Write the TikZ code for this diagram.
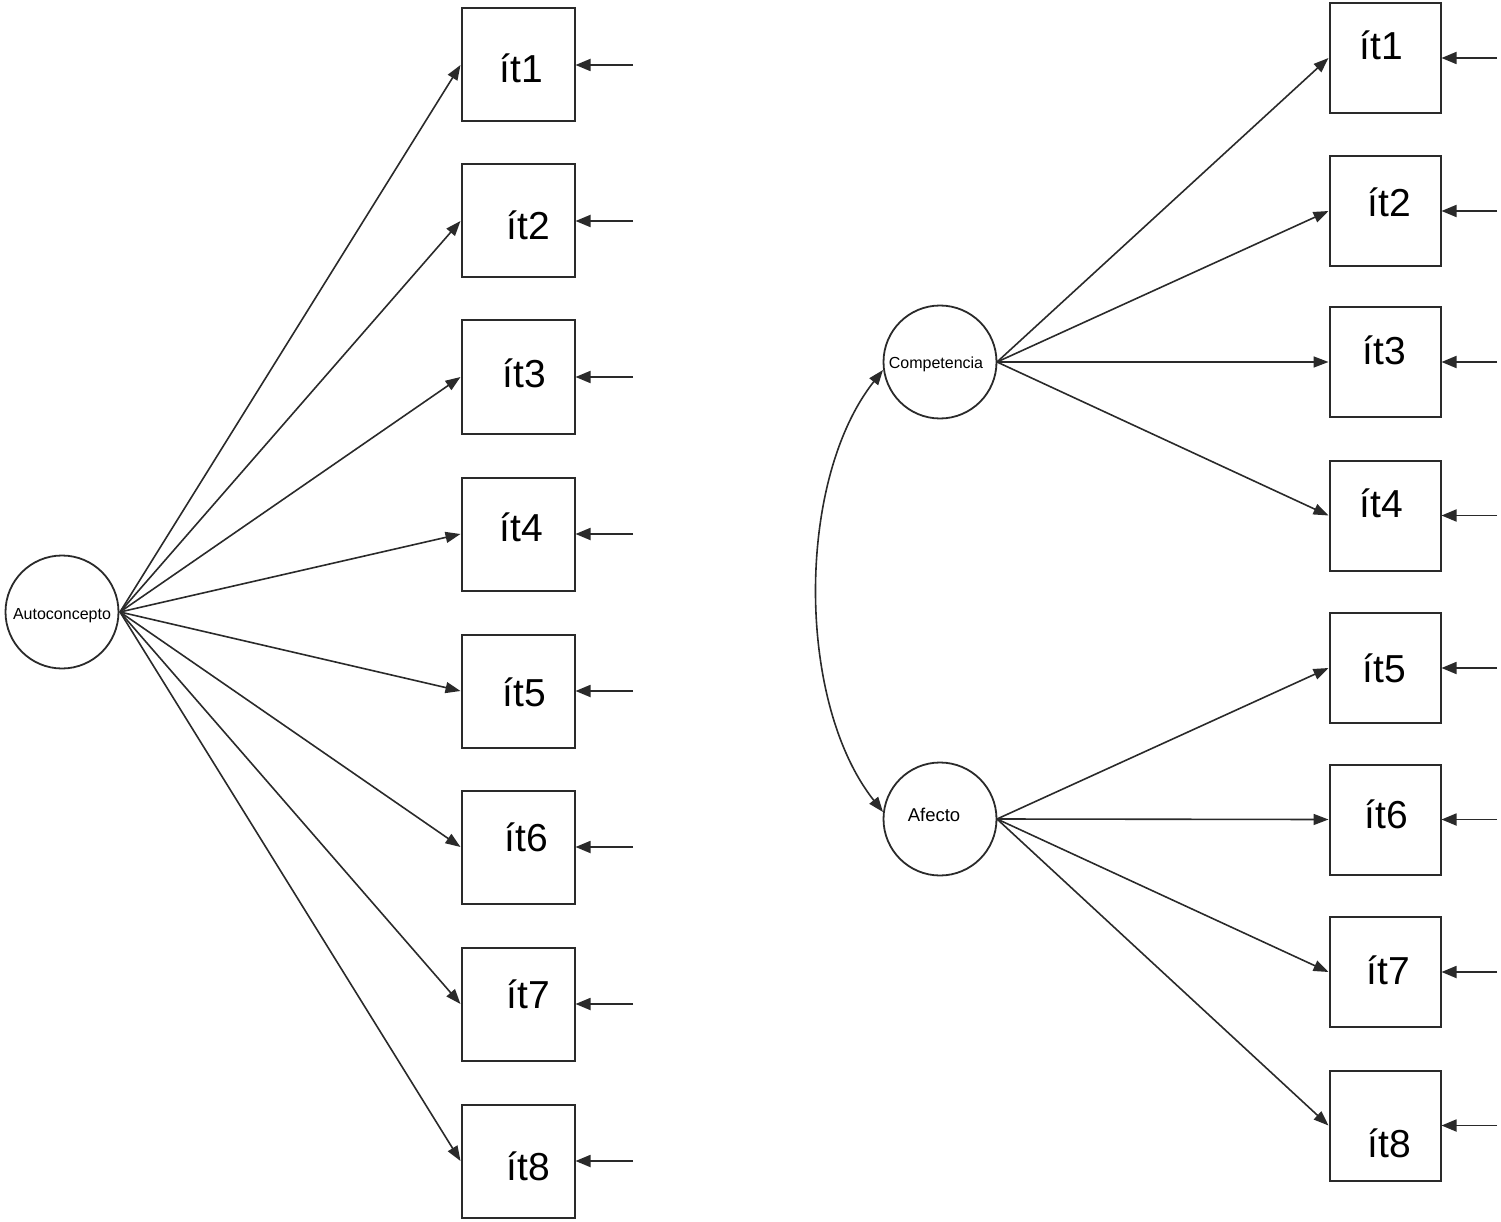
\documentclass[tikz,border=0pt]{standalone}
\usepackage{fontspec}
\setmainfont{Liberation Sans}
\usetikzlibrary{arrows.meta}
\definecolor{ink}{HTML}{2A2A2A}
\tikzset{
  itembox/.style={draw=ink, line width=2pt, minimum width=113pt, minimum height=113pt, inner sep=0pt},
  ritembox/.style={draw=ink, line width=2pt, minimum width=111pt, minimum height=110pt, inner sep=0pt},
  latent/.style={draw=ink, circle, line width=1.8pt, minimum size=113pt, inner sep=0pt},
  itemtext/.style={font=\fontsize{39}{41}\selectfont, inner sep=0pt},
  latext/.style={font=\fontsize{16}{18}\selectfont, inner sep=0pt},
  path/.style={draw=ink, line width=1.6pt, -{Triangle[length=15pt,width=11pt]}},
  resid/.style={draw=ink, line width=1.8pt, -{Triangle[length=15pt,width=12pt]}},
}
\begin{document}
\begin{tikzpicture}[x=1pt,y=-1pt]
\useasboundingbox (0,0) rectangle (1501,1222);
% ---- left model ----
\node[latent] (A) at (62,612) {};
\node[latext] (At) at (62,616) {Autoconcepto};
\coordinate (As) at (120,612);
\foreach \i/\y/\tx/\ty in {1/65/521/68, 2/221/528/225, 3/377/524/373, 4/534/521/527, 5/691/524/692, 6/847/526/837, 7/1004/528/994, 8/1161/528/1166}{
  \node[itembox] (L\i) at (518,\y) {};
  \node[itemtext] (Lt\i) at (\tx,\ty) {ít\i};
  \coordinate (Le\i) at (633,\y);
  \draw[path] (As) -- (L\i.west);
  \draw[resid] (Le\i) -- (L\i.east);
}
% ---- right model ----
\node[latent] (C) at (940,362) {};
\node[latext] (Ct) at (936,364) {Competencia};
\node[latent] (F) at (940,819) {};
\node[latext,font=\fontsize{18.5}{20}\selectfont] (Ft) at (934,815) {Afecto};
\coordinate (Cs) at (997,362);
\coordinate (Fs) at (997,819);
\foreach \i/\y/\tx/\ty in {1/58/1381/45, 2/211/1389/202, 3/362/1384/350, 4/515.5/1381/503, 5/668/1384/668, 6/819.5/1386/814, 7/972/1388/970, 8/1125.5/1389/1143}{
  \node[ritembox] (R\i) at (1385,\y) {};
  \node[itemtext] (Rt\i) at (\tx,\ty) {ít\i};
  \coordinate (Re\i) at (1497,\y);
  \draw[resid] (Re\i) -- (R\i.east);
}
\foreach \i in {1,2,3,4}{\draw[path] (Cs) -- (R\i.west);}
\foreach \i in {5,6,7,8}{\draw[path] (Fs) -- (R\i.west);}
\coordinate (Cc) at (883,370);
\coordinate (Fc) at (883,812);
\draw[draw=ink, line width=1.6pt, {Triangle[length=15pt,width=11pt]}-{Triangle[length=15pt,width=11pt]}]
  (Cc) .. controls (796,480) and (796,702) .. (Fc);
\end{tikzpicture}
\end{document}
